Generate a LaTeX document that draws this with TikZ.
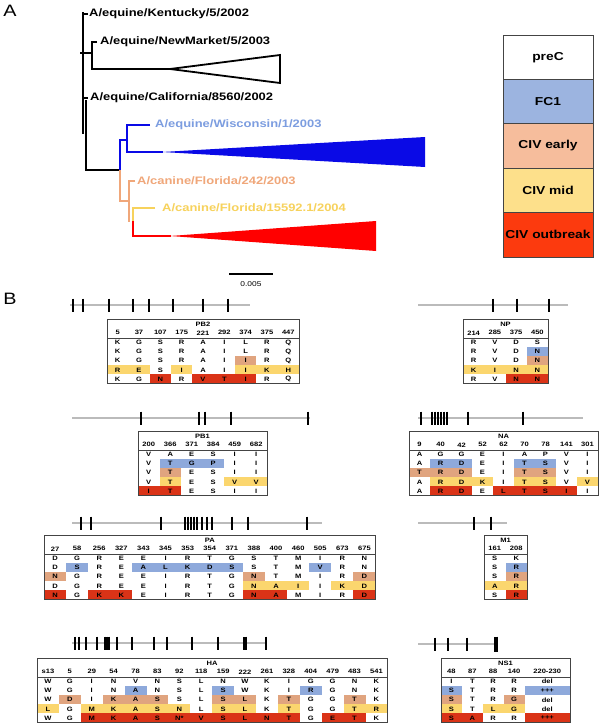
\documentclass[tikz,border=0pt]{standalone}
\usepackage{fontspec}
\setmainfont{Liberation Sans}[FakeStretch=1.2]
\definecolor{tb}{HTML}{8EA9DB}
\definecolor{ts}{HTML}{E0A47F}
\definecolor{ty}{HTML}{FBD66E}
\definecolor{tr}{HTML}{DA3317}
\colorlet{tw}{white}
\definecolor{lb}{HTML}{9CB4E0}
\definecolor{ls}{HTML}{F6BD9C}
\definecolor{ly}{HTML}{FDE08B}
\definecolor{lr}{HTML}{FC3A0E}
\definecolor{treeblue}{HTML}{0A0AE6}
\definecolor{wisc}{HTML}{7C9DE0}
\definecolor{treesal}{HTML}{F0A77A}
\definecolor{treeyel}{HTML}{F7D25C}
\definecolor{treered}{HTML}{FF0000}
\definecolor{genegrey}{HTML}{BBBBBB}
\definecolor{framegrey}{HTML}{444444}
\newcommand\tframe[4]{%
  \draw[frm] (#1,#2) rectangle ({#1+#3},{#2+64.5});
  \draw[frm] (#1,{#2+19}) -- ({#1+#3},{#2+19});
  \node[ct] at ({#1+#3/2},{#2+5}) {#4};
}
\newcommand\thead[4]{%
  \foreach \l [count=\i] in {#4} \node[ct] at ({#1+(\i-0.5)*#3},{#2+13.8}) {\l};
}
\newcommand\trow[5]{%
  \foreach \c/\l [count=\i] in {#5} {
    \fill[\c] ({#1+(\i-1)*#3},{#2+19+(#4-1)*9.1}) rectangle +(#3,9.1);
    \node[ct] at ({#1+(\i-0.5)*#3},{#2+19+(#4-0.5)*9.1}) {\l};
  }
}
\newcommand\gline[4]{%
  \draw[gl] (#2,#1) -- (#3,#1);
  \foreach \t in {#4} \draw[tk] (\t,{#1-6.5}) -- (\t,{#1+6.5});
}
\begin{document}
\begin{tikzpicture}[x=1pt,y=-1pt,
  br/.style={line width=1.8pt},
  tl/.style={font=\bfseries\fontsize{10.8}{12}\selectfont, anchor=west, inner sep=0pt},
  ct/.style={font=\bfseries\fontsize{6.3}{7}\selectfont, inner sep=0pt},
  frm/.style={draw=framegrey, line width=0.9pt},
  gl/.style={draw=genegrey, line width=2.4pt},
  tk/.style={draw=black, line width=2.2pt},
  leg/.style={draw=framegrey, line width=0.9pt, minimum width=90pt, minimum height=44.4pt, inner sep=0pt, font=\bfseries\fontsize{11.5}{13}\selectfont},
  pl/.style={font=\fontsize{16.5}{18}\selectfont, inner sep=0pt}]
\useasboundingbox (0,0) rectangle (602,723);
\fill[white] (0,0) rectangle (602,723);
% panel labels
\node[pl] (labA) at (10,11) {A};
\node[pl] (labB) at (10,299) {B};
% ---------- tree ----------
\draw[br] (83,12) -- (83,134);
\draw[br] (83,14) -- (88,14);
\draw[br] (80,53) -- (92,53);
\draw[br] (97,42) -- (92,42) -- (92,69) -- (170,69);
\draw[br, fill=white] (170,69) -- (280,55) -- (280,83) -- cycle;
\draw[br] (83,98) -- (88,98);
\draw[br] (86,100) -- (86,170) -- (120,170);
\draw[br, treeblue] (120,170) -- (120,140) -- (127,140);
\draw[br, treeblue] (150,125) -- (127,125) -- (127,152) -- (163,152);
\fill[treeblue] (162,152) -- (425,137) -- (425,167) -- cycle;
\draw[br, treesal] (120,170) -- (120,201) -- (129,201);
\draw[br, treesal] (135,181) -- (129,181) -- (129,222);
\draw[br, treeyel] (155,208) -- (133,208) -- (133,222);
\draw[br, treered] (133,221) -- (133,236) -- (171,236);
\fill[treered] (170,236) -- (376,221) -- (376,251) -- cycle;
\node[tl] (t1) at (89,14) {A/equine/Kentucky/5/2002};
\node[tl] (t2) at (100,42) {A/equine/NewMarket/5/2003};
\node[tl] (t3) at (90,98) {A/equine/California/8560/2002};
\node[tl, text=wisc] (t4) at (155,125) {A/equine/Wisconsin/1/2003};
\node[tl, text=treesal] (t5) at (137,181) {A/canine/Florida/242/2003};
\node[tl, text=treeyel] (t6) at (162,208) {A/canine/Florida/15592.1/2004};
\draw[line width=1.6pt] (229,274) -- (273,274);
\node[font=\fontsize{7}{8}\selectfont, inner sep=0pt] (sc) at (251,284) {0.005};
% ---------- legend ----------
\node[leg, fill=white] (l1) at (548,57.2) {preC};
\node[leg, fill=lb] (l2) at (548,101.6) {FC1};
\node[leg, fill=ls] (l3) at (548,146) {CIV early};
\node[leg, fill=ly] (l4) at (548,190.4) {CIV mid};
\node[leg, fill=lr] (l5) at (548,234.8) {CIV outbreak};
% ---------- PB2 ----------
\gline{305}{70}{250}{73,83,109,133,149,173,203,228}
\trow{107}{319}{21.33}{1}{tw/K,tw/G,tw/S,tw/R,tw/A,tw/I,tw/L,tw/R,tw/Q}
\trow{107}{319}{21.33}{2}{tw/K,tw/G,tw/S,tw/R,tw/A,tw/I,tw/L,tw/R,tw/Q}
\trow{107}{319}{21.33}{3}{tw/K,tw/G,tw/S,tw/R,tw/A,tw/I,ts/I,tw/R,tw/Q}
\trow{107}{319}{21.33}{4}{ty/R,ty/E,tw/S,ty/I,tw/A,tw/I,ty/I,ty/K,ty/H}
\trow{107}{319}{21.33}{5}{tw/K,tw/G,tr/N,tw/R,tr/V,tr/T,tr/I,tw/R,tw/Q}
\thead{107}{319}{21.33}{5,37,107,175,221,292,374,375,447}
\tframe{107}{319}{192}{PB2}
% ---------- NP ----------
\gline{305}{418}{568}{493,517,549}
\trow{463}{319}{21.25}{1}{tw/R,tw/V,tw/D,tw/S}
\trow{463}{319}{21.25}{2}{tw/R,tw/V,tw/D,tb/N}
\trow{463}{319}{21.25}{3}{tw/R,tw/V,tw/D,ts/N}
\trow{463}{319}{21.25}{4}{ty/K,ty/I,ty/N,ty/N}
\trow{463}{319}{21.25}{5}{tw/R,tw/V,tr/N,tr/N}
\thead{463}{319}{21.25}{214,285,375,450}
\tframe{463}{319}{85}{NP}
% ---------- PB1 ----------
\gline{418}{72}{310}{141,199,205,231,308}
\trow{138}{431}{21.5}{1}{tw/V,tw/A,tw/E,tw/S,tw/I,tw/I}
\trow{138}{431}{21.5}{2}{tw/V,tb/T,tb/G,tb/P,tw/I,tw/I}
\trow{138}{431}{21.5}{3}{tw/V,ts/T,tw/E,tw/S,tw/I,tw/I}
\trow{138}{431}{21.5}{4}{tw/V,ty/T,tw/E,tw/S,ty/V,ty/V}
\trow{138}{431}{21.5}{5}{tr/I,tr/T,tw/E,tw/S,tw/I,tw/I}
\thead{138}{431}{21.5}{200,366,371,384,459,682}
\tframe{138}{431}{129}{PB1}
% ---------- NA ----------
\gline{418}{418}{583}{421,432,435,438,441,444,447,468,523}
\trow{409}{431}{21}{1}{tw/A,tw/G,tw/G,tw/E,tw/I,tw/A,tw/P,tw/V,tw/I}
\trow{409}{431}{21}{2}{tw/A,tb/R,tb/D,tw/E,tw/I,tb/T,tb/S,tw/V,tw/I}
\trow{409}{431}{21}{3}{ts/T,ts/R,ts/D,tw/E,tw/I,ts/T,ts/S,tw/V,tw/I}
\trow{409}{431}{21}{4}{tw/A,ty/R,ty/D,ty/K,tw/I,ty/T,ty/S,tw/V,ty/V}
\trow{409}{431}{21}{5}{tw/A,tr/R,tr/D,tw/E,tr/L,tr/T,tr/S,tr/I,tw/I}
\thead{409}{431}{21}{9,40,42,52,62,70,78,141,301}
\tframe{409}{431}{189}{NA}
% ---------- PA ----------
\gline{523}{72}{322}{81,91,161,185,188,191,194,197,202,207,212,232,248,307}
\trow{44}{535}{22.1}{1}{tw/D,tw/G,tw/R,tw/E,tw/E,tw/I,tw/R,tw/T,tw/G,tw/S,tw/T,tw/M,tw/I,tw/R,tw/N}
\trow{44}{535}{22.1}{2}{tw/D,tb/S,tw/R,tw/E,tb/A,tb/L,tb/K,tb/D,tb/S,tw/S,tw/T,tw/M,tb/V,tw/R,tw/N}
\trow{44}{535}{22.1}{3}{ts/N,tw/G,tw/R,tw/E,tw/E,tw/I,tw/R,tw/T,tw/G,ts/N,tw/T,tw/M,tw/I,tw/R,ts/D}
\trow{44}{535}{22.1}{4}{tw/D,tw/G,tw/R,tw/E,tw/E,tw/I,tw/R,tw/T,tw/G,ty/N,ty/A,ty/I,tw/I,ty/K,ty/D}
\trow{44}{535}{22.1}{5}{tr/N,tw/G,tr/K,tr/K,tw/E,tw/I,tw/R,tw/T,tw/G,tr/N,tr/A,tw/M,tw/I,tw/R,tr/D}
\thead{44}{535}{22.1}{27,58,256,327,343,345,353,354,371,388,400,460,505,673,675}
\tframe{44}{535}{331.5}{PA}
% ---------- M1 ----------
\gline{523}{418}{507}{474,491}
\trow{484}{535}{21.5}{1}{tw/S,tw/K}
\trow{484}{535}{21.5}{2}{tw/S,tb/R}
\trow{484}{535}{21.5}{3}{tw/S,ts/R}
\trow{484}{535}{21.5}{4}{ty/A,ty/R}
\trow{484}{535}{21.5}{5}{tw/S,tr/R}
\thead{484}{535}{21.5}{161,208}
\tframe{484}{535}{43}{M1}
% ---------- HA ----------
\gline{643}{72}{267}{75,79,86,97,105,107,109,117,132,154,167,192,218,266}
\draw[tk, line width=3.5pt] (245,636.5) -- (245,649.5);
\trow{37}{658}{21.9}{1}{tw/W,tw/G,tw/I,tw/N,tw/V,tw/N,tw/S,tw/L,tw/N,tw/W,tw/K,tw/I,tw/G,tw/G,tw/N,tw/K}
\trow{37}{658}{21.9}{2}{tw/W,tw/G,tw/I,tw/N,tb/A,tw/N,tw/S,tw/L,tb/S,tw/W,tw/K,tw/I,tb/R,tw/G,tw/N,tw/K}
\trow{37}{658}{21.9}{3}{tw/W,ts/D,tw/I,ts/K,ts/A,ts/S,tw/S,tw/L,ts/S,ts/L,tw/K,ts/T,tw/G,tw/G,ts/T,tw/K}
\trow{37}{658}{21.9}{4}{ty/L,tw/G,ty/M,ty/K,ty/A,ty/S,ty/N,tw/L,ty/S,ty/L,tw/K,ty/T,tw/G,tw/G,ty/T,ty/R}
\trow{37}{658}{21.9}{5}{tw/W,tw/G,tr/M,tr/K,tr/A,tr/S,tr/N*,tr/V,tr/S,tr/L,tr/N,tr/T,tw/G,tr/E,tr/T,tw/K}
\thead{37}{658}{21.9}{s13,5,29,54,78,83,92,118,159,222,261,328,404,479,483,541}
\tframe{37}{658}{350.4}{HA}
% ---------- NS1 ----------
\gline{644}{418}{498}{435,448,467}
\draw[tk, line width=4.5pt] (496,636.5) -- (496,651.5);
\trow{441}{658}{20.875}{1}{tw/I,tw/T,tw/R,tw/R}
\trow{441}{658}{20.875}{2}{tb/S,tw/T,tw/R,tw/R}
\trow{441}{658}{20.875}{3}{ts/S,tw/T,tw/R,ts/G}
\trow{441}{658}{20.875}{4}{ty/S,tw/T,ty/L,ty/G}
\trow{441}{658}{20.875}{5}{tr/S,tr/A,tw/R,tw/R}
\trow{524.5}{658}{45.5}{1}{tw/del}
\trow{524.5}{658}{45.5}{2}{tb/+++}
\trow{524.5}{658}{45.5}{3}{tw/del}
\trow{524.5}{658}{45.5}{4}{tw/del}
\trow{524.5}{658}{45.5}{5}{tr/+++}
\thead{441}{658}{20.875}{48,87,88,140}
\node[ct] at (547.25,671.8) {220-230};
\tframe{441}{658}{129}{NS1}
\end{tikzpicture}
\end{document}
